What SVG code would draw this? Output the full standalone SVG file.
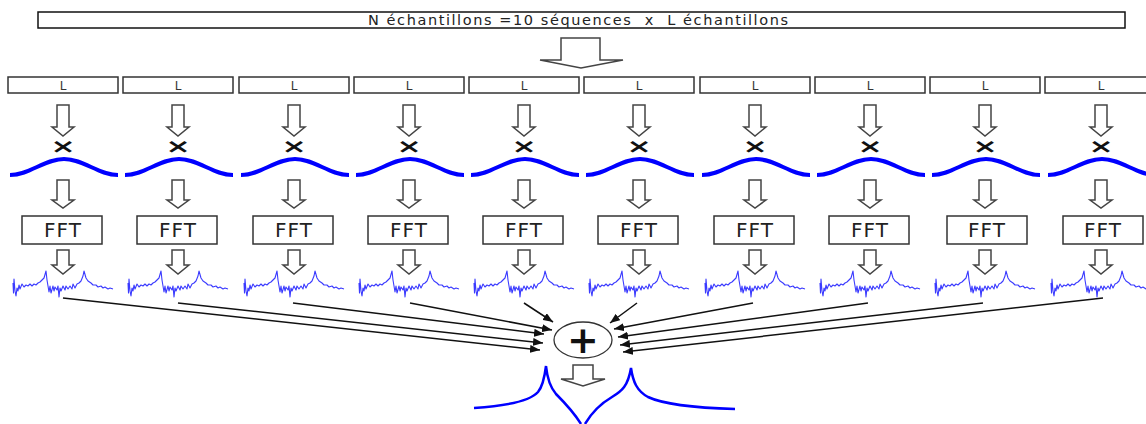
<svg xmlns="http://www.w3.org/2000/svg" xmlns:xlink="http://www.w3.org/1999/xlink" width="1146" height="424" viewBox="0 0 1146 424">
<style>
.box{fill:#fff;stroke:#333;stroke-width:1.5}
.bar{fill:#fff;stroke:#111;stroke-width:1.5}
.harrow{fill:#fff;stroke:#444;stroke-width:1.5;stroke-linejoin:miter}
.wave{fill:none;stroke:#0000ff;stroke-width:4}
.spec{fill:none;stroke:#3a3aff;stroke-width:1.1;stroke-linejoin:round}
.conn{stroke:#111;stroke-width:1.5;fill:none}
.lt{font-family:"DejaVu Sans",Verdana,sans-serif;font-size:12px;fill:#333;text-anchor:middle}
.ft{font-family:"DejaVu Sans",Verdana,sans-serif;font-size:20px;fill:#222;text-anchor:middle;letter-spacing:1px}
.mul{font-family:"DejaVu Sans",sans-serif;font-size:24px;font-weight:bold;fill:#111;text-anchor:middle}
.tt{font-family:"DejaVu Sans",Verdana,sans-serif;font-size:14.5px;fill:#222;text-anchor:middle}
</style>
<defs>
<marker id="ah" markerUnits="userSpaceOnUse" markerWidth="10" markerHeight="8" refX="10" refY="4" orient="auto">
<path d="M0,0 L10,4 L0,8 z" fill="#111"/>
</marker>
<path id="a1" class="harrow" d="M-6,105 H6 V127 H11 L0,136 L-11,127 H-6 Z"/>
<path id="a2" class="harrow" d="M-6,180 H6 V200 H11 L0,208 L-11,200 H-6 Z"/>
<path id="a3" class="harrow" d="M-6,250 H6 V265 H11 L0,274 L-11,265 H-6 Z"/>
<path id="wv" class="wave" d="M-53,175 C-33.3,175 -18.7,159 1,159 C20.7,159 35.3,175 55,175"/>
<path id="sp" class="spec" d="M-50,283 L-49.5,293 L-49,279 L-48,291 L-47,296 L-46,288 L-45,291 L-44,285 L-43,289 L-41,284 L-39,287 L-37,285 L-35,286 L-33,284 L-31,286 L-29,284 L-27,285 L-25,283 L-23,282 L-21,280 L-19,278 L-17,271 L-16,280 L-15,286 L-14,292 L-13,286 L-12,293 L-10,286 L-9,291 L-8,287 L-6,290 L-5,286 L-4,297 L-3,288 L-2,291 L0,286 L2,290 L3,286 L5,289 L7,286 L9,289 L10,284 L12,288 L14,284 L16,283 L18,281 L20,276 L21,271 L23,278 L25,281 L28,283 L30,285 L33,285 L35,287 L38,286 L40,288 L42,287 L45,289 L47,288 L50,289"/>
<g id="mx"><text class="mul" transform="translate(0,153) scale(1.25,0.8)">×</text></g>
</defs>

<g id="top">
<rect class="bar" x="38" y="12" width="1087" height="16"/>
<text class="tt" x="578" y="25" textLength="420" lengthAdjust="spacing" xml:space="preserve">N échantillons =10 séquences  x  L échantillons</text>
</g>
<g id="split-arrow">
<path class="harrow" d="M561,38 H600 V60 H623 L581,68 L540,60 H561 Z"/>
</g>

<g id="col1" transform="translate(63,0)">
<rect class="box" x="-55" y="77" width="110" height="16"/><text class="lt" x="0" y="89.5">L</text>
<use href="#a1"/><use href="#mx"/><use href="#wv"/><use href="#a2"/>
<rect class="box" x="-41" y="216" width="80" height="28"/><text class="ft" x="0" y="237">FFT</text>
<use href="#a3"/><use href="#sp"/>
</g>
<g id="col2" transform="translate(178,0)">
<rect class="box" x="-55" y="77" width="110" height="16"/><text class="lt" x="0" y="89.5">L</text>
<use href="#a1"/><use href="#mx"/><use href="#wv"/><use href="#a2"/>
<rect class="box" x="-41" y="216" width="80" height="28"/><text class="ft" x="0" y="237">FFT</text>
<use href="#a3"/><use href="#sp"/>
</g>
<g id="col3" transform="translate(294,0)">
<rect class="box" x="-55" y="77" width="110" height="16"/><text class="lt" x="0" y="89.5">L</text>
<use href="#a1"/><use href="#mx"/><use href="#wv"/><use href="#a2"/>
<rect class="box" x="-41" y="216" width="80" height="28"/><text class="ft" x="0" y="237">FFT</text>
<use href="#a3"/><use href="#sp"/>
</g>
<g id="col4" transform="translate(409,0)">
<rect class="box" x="-55" y="77" width="110" height="16"/><text class="lt" x="0" y="89.5">L</text>
<use href="#a1"/><use href="#mx"/><use href="#wv"/><use href="#a2"/>
<rect class="box" x="-41" y="216" width="80" height="28"/><text class="ft" x="0" y="237">FFT</text>
<use href="#a3"/><use href="#sp"/>
</g>
<g id="col5" transform="translate(524,0)">
<rect class="box" x="-55" y="77" width="110" height="16"/><text class="lt" x="0" y="89.5">L</text>
<use href="#a1"/><use href="#mx"/><use href="#wv"/><use href="#a2"/>
<rect class="box" x="-41" y="216" width="80" height="28"/><text class="ft" x="0" y="237">FFT</text>
<use href="#a3"/><use href="#sp"/>
</g>
<g id="col6" transform="translate(639,0)">
<rect class="box" x="-55" y="77" width="110" height="16"/><text class="lt" x="0" y="89.5">L</text>
<use href="#a1"/><use href="#mx"/><use href="#wv"/><use href="#a2"/>
<rect class="box" x="-41" y="216" width="80" height="28"/><text class="ft" x="0" y="237">FFT</text>
<use href="#a3"/><use href="#sp"/>
</g>
<g id="col7" transform="translate(755,0)">
<rect class="box" x="-55" y="77" width="110" height="16"/><text class="lt" x="0" y="89.5">L</text>
<use href="#a1"/><use href="#mx"/><use href="#wv"/><use href="#a2"/>
<rect class="box" x="-41" y="216" width="80" height="28"/><text class="ft" x="0" y="237">FFT</text>
<use href="#a3"/><use href="#sp"/>
</g>
<g id="col8" transform="translate(870,0)">
<rect class="box" x="-55" y="77" width="110" height="16"/><text class="lt" x="0" y="89.5">L</text>
<use href="#a1"/><use href="#mx"/><use href="#wv"/><use href="#a2"/>
<rect class="box" x="-41" y="216" width="80" height="28"/><text class="ft" x="0" y="237">FFT</text>
<use href="#a3"/><use href="#sp"/>
</g>
<g id="col9" transform="translate(985,0)">
<rect class="box" x="-55" y="77" width="110" height="16"/><text class="lt" x="0" y="89.5">L</text>
<use href="#a1"/><use href="#mx"/><use href="#wv"/><use href="#a2"/>
<rect class="box" x="-38" y="216" width="80" height="28"/><text class="ft" x="2" y="237">FFT</text>
<use href="#a3"/><use href="#sp"/>
</g>
<g id="col10" transform="translate(1101,0)">
<rect class="box" x="-56" y="77" width="110" height="16"/><text class="lt" x="0" y="89.5">L</text>
<use href="#a1"/><use href="#mx"/><use href="#wv"/><use href="#a2"/>
<rect class="box" x="-38" y="216" width="80" height="28"/><text class="ft" x="2" y="237">FFT</text>
<use href="#a3"/><use href="#sp"/>
</g>

<g id="connectors">
<line class="conn" x1="63" y1="298" x2="540" y2="350" marker-end="url(#ah)"/>
<line class="conn" x1="178" y1="303" x2="543" y2="343" marker-end="url(#ah)"/>
<line class="conn" x1="293" y1="303" x2="544" y2="334" marker-end="url(#ah)"/>
<line class="conn" x1="410" y1="303" x2="552" y2="330" marker-end="url(#ah)"/>
<line class="conn" x1="524" y1="303" x2="553" y2="322" marker-end="url(#ah)"/>
<line class="conn" x1="637" y1="303" x2="610" y2="323" marker-end="url(#ah)"/>
<line class="conn" x1="753" y1="303" x2="614" y2="329" marker-end="url(#ah)"/>
<line class="conn" x1="868" y1="303" x2="618" y2="337" marker-end="url(#ah)"/>
<line class="conn" x1="983" y1="303" x2="620" y2="345" marker-end="url(#ah)"/>
<line class="conn" x1="1103" y1="298" x2="623" y2="352" marker-end="url(#ah)"/>
</g>

<g id="sum">
<ellipse cx="583" cy="340" rx="29" ry="18" fill="#fff" stroke="#333" stroke-width="1.3"/>
<text x="583" y="353" font-family="DejaVu Sans,sans-serif" font-size="38" font-weight="bold" fill="#111" text-anchor="middle">+</text>
</g>
<g id="out-arrow">
<path class="harrow" d="M573,365 H593 V379 H605 L583,386 L561,379 H573 Z"/>
</g>
<g id="result">
<path fill="none" stroke="#0000ff" stroke-width="2.5" d="M474,408 C505,406 530,401 538,392 C543,386 545,374 546,366 C547,376 550,387 556,394 C564,402 573,411 581,424 M585,424 C592,412 600,404 612,397 C622,391 628,386 631,368 C633,382 637,391 648,397 C665,405 700,408 735,409"/>
</g>
</svg>
